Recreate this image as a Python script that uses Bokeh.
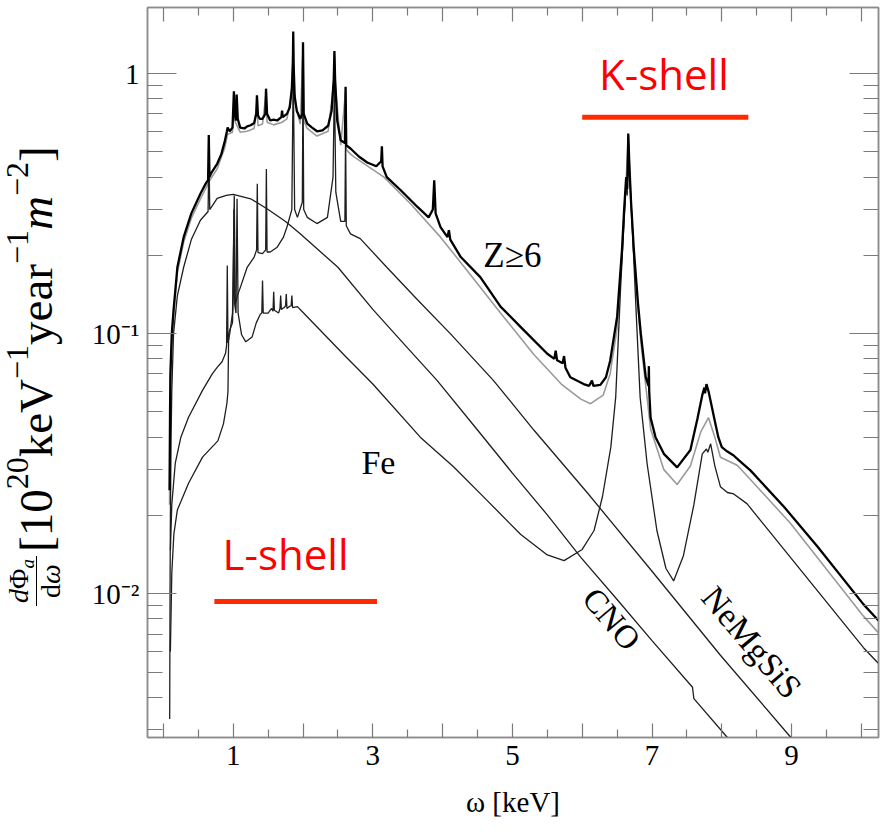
from bokeh.plotting import figure
from bokeh.layouts import row
from bokeh.models import Range1d, FixedTicker, LinearAxis, LogAxis, Label, Div
from bokeh.embed import file_html
from bokeh.resources import INLINE

# ---- spectra: energy omega [keV] and flux d(Phi_a)/d(omega) [1e20 keV^-1 yr^-1 m^-2] ----

# all metals (Z >= 6), including lines
total_e = [0.088, 0.095, 0.10, 0.12, 0.145, 0.20, 0.29, 0.40, 0.53, 0.60, 0.64, 0.65, 0.66,
           0.68, 0.77, 0.83, 0.88, 0.91, 0.92, 0.95, 0.99, 1.01, 1.02, 1.04, 1.05, 1.065,
           1.10, 1.16, 1.20, 1.25, 1.30, 1.33, 1.34, 1.355, 1.38, 1.42, 1.46, 1.47, 1.485,
           1.53, 1.58, 1.63, 1.69, 1.70, 1.71, 1.77, 1.81, 1.84, 1.855, 1.86, 1.865, 1.88,
           1.91, 1.96, 1.99, 2.00, 2.01, 2.06, 2.13, 2.20, 2.28, 2.36, 2.41, 2.44, 2.45,
           2.46, 2.49, 2.54, 2.60, 2.61, 2.62, 2.68, 2.80, 2.92, 3.05, 3.12, 3.13, 3.14,
           3.20, 3.40, 3.64, 3.80, 3.86, 3.88, 3.90, 3.97, 4.07, 4.09, 4.11, 4.26, 4.54,
           4.83, 5.12, 5.50, 5.60, 5.62, 5.64, 5.72, 5.74, 5.76, 5.83, 5.95, 6.02, 6.10,
           6.14, 6.16, 6.26, 6.34, 6.40, 6.50, 6.57, 6.60, 6.63, 6.645, 6.66, 6.675, 6.70,
           6.74, 6.80, 6.84, 6.91, 6.95, 6.955, 6.96, 6.98, 7.05, 7.17, 7.36, 7.55, 7.65,
           7.72, 7.75, 7.76, 7.78, 7.81, 7.89, 7.95, 8.00, 8.08, 8.17, 8.25, 8.41, 8.89,
           9.37, 10.03, 10.30]
total_f = [0.025, 0.05, 0.07, 0.10, 0.123, 0.18, 0.235, 0.29, 0.345, 0.375, 0.39, 0.58, 0.40,
           0.412, 0.45, 0.49, 0.55, 0.60, 0.62, 0.60, 0.62, 0.855, 0.70, 0.66, 0.83, 0.67,
           0.62, 0.615, 0.627, 0.633, 0.645, 0.70, 0.825, 0.69, 0.67, 0.67, 0.70, 0.875, 0.70,
           0.66, 0.665, 0.66, 0.68, 0.72, 0.68, 0.70, 0.74, 0.88, 1.10, 1.45, 1.10, 0.82,
           0.72, 0.67, 0.70, 1.32, 0.70, 0.642, 0.62, 0.60, 0.605, 0.63, 0.72, 0.95, 1.22,
           0.95, 0.66, 0.554, 0.54, 0.89, 0.53, 0.515, 0.48, 0.455, 0.44, 0.46, 0.525, 0.44,
           0.40, 0.356, 0.307, 0.28, 0.30, 0.389, 0.29, 0.257, 0.235, 0.25, 0.23, 0.197, 0.165,
           0.127, 0.106, 0.0837, 0.080, 0.086, 0.079, 0.077, 0.082, 0.074, 0.068, 0.0655, 0.064, 0.063,
           0.066, 0.063, 0.0635, 0.068, 0.0785, 0.116, 0.21, 0.298, 0.40, 0.36, 0.588, 0.45, 0.32,
           0.21, 0.13, 0.10, 0.068, 0.063, 0.075, 0.060, 0.0475, 0.040, 0.0345, 0.0306, 0.0357, 0.047,
           0.058, 0.062, 0.059, 0.064, 0.060, 0.0475, 0.040, 0.0366, 0.0352, 0.034, 0.0325, 0.0298, 0.0216,
           0.0152, 0.0091, 0.0076]

# continuum-dominated total for comparison (grey)
grey_e = [0.088, 0.095, 0.10, 0.12, 0.145, 0.20, 0.29, 0.40, 0.53, 0.68, 0.77, 0.88, 0.92,
          0.99, 1.01, 1.02, 1.10, 1.20, 1.30, 1.34, 1.355, 1.42, 1.47, 1.485, 1.58, 1.70,
          1.77, 1.84, 1.86, 1.88, 1.96, 2.00, 2.01, 2.06, 2.20, 2.36, 2.44, 2.45, 2.46,
          2.54, 2.61, 2.62, 2.68, 2.73, 3.16, 3.54, 3.97, 4.35, 4.83, 5.31, 5.70, 5.98,
          6.12, 6.30, 6.40, 6.50, 6.57, 6.60, 6.63, 6.66, 6.70, 6.74, 6.84, 6.98, 7.17,
          7.36, 7.55, 7.70, 7.81, 7.90, 7.98, 8.22, 8.41, 8.98, 10.03, 10.30]
grey_f = [0.022, 0.045, 0.065, 0.095, 0.117, 0.172, 0.225, 0.278, 0.33, 0.395, 0.43, 0.52, 0.585,
          0.595, 0.80, 0.66, 0.595, 0.60, 0.615, 0.78, 0.63, 0.64, 0.84, 0.65, 0.635, 0.65,
          0.67, 0.85, 1.40, 0.79, 0.64, 1.25, 0.66, 0.615, 0.575, 0.60, 0.92, 1.18, 0.92,
          0.53, 0.86, 0.51, 0.49, 0.478, 0.40, 0.316, 0.235, 0.175, 0.12, 0.083, 0.064, 0.056,
          0.0538, 0.058, 0.07, 0.105, 0.20, 0.29, 0.39, 0.57, 0.31, 0.20, 0.093, 0.043, 0.030,
          0.0263, 0.031, 0.042, 0.0475, 0.040, 0.0335, 0.0312, 0.0275, 0.0187, 0.0082, 0.0068]

# carbon, nitrogen, oxygen
cno_e = [0.09, 0.095, 0.10, 0.11, 0.12, 0.145, 0.20, 0.29, 0.40, 0.53, 0.64, 0.652, 0.664,
         0.77, 0.90, 1.00, 1.25, 1.50, 1.75, 1.96, 2.50, 3.00, 3.50, 3.92, 4.50, 5.00,
         5.50, 5.98, 6.50, 7.00, 7.58, 7.60, 8.08, 8.30]
cno_f = [0.0033, 0.010, 0.020, 0.040, 0.060, 0.10, 0.14, 0.18, 0.23, 0.273, 0.295, 0.50, 0.30,
         0.331, 0.340, 0.343, 0.33, 0.30, 0.27, 0.242, 0.18, 0.124, 0.088, 0.0661, 0.0426, 0.0291,
         0.0201, 0.0138, 0.0095, 0.0066, 0.00437, 0.00395, 0.0028, 0.0024]

# neon, magnesium, silicon, sulphur
nemgsis_e = [0.10, 0.12, 0.17, 0.25, 0.36, 0.56, 0.70, 0.77, 0.84, 0.89, 0.905, 0.915, 0.925,
             0.95, 0.99, 1.015, 1.03, 1.06, 1.10, 1.20, 1.30, 1.335, 1.345, 1.355, 1.42, 1.465,
             1.475, 1.485, 1.53, 1.63, 1.72, 1.77, 1.84, 1.86, 1.88, 1.92, 1.99, 2.00, 2.01,
             2.06, 2.20, 2.35, 2.43, 2.45, 2.47, 2.54, 2.60, 2.61, 2.62, 2.68, 2.82, 3.20,
             3.64, 4.11, 4.73, 5.31, 6.07, 7.00, 7.98, 8.99, 9.20]
nemgsis_f = [0.0147, 0.022, 0.0318, 0.040, 0.0477, 0.0605, 0.070, 0.0742, 0.078, 0.084, 0.09, 0.183, 0.092,
             0.10, 0.12, 0.34, 0.13, 0.14, 0.15, 0.18, 0.197, 0.21, 0.377, 0.205, 0.203, 0.21,
             0.43, 0.206, 0.206, 0.215, 0.235, 0.257, 0.30, 1.05, 0.30, 0.28, 0.32, 0.95, 0.30,
             0.28, 0.265, 0.28, 0.40, 0.93, 0.35, 0.27, 0.27, 0.60, 0.26, 0.242, 0.232, 0.18,
             0.135, 0.10, 0.066, 0.0425, 0.0245, 0.0122, 0.0058, 0.0028, 0.0024]

# iron
fe_e = [0.10, 0.12, 0.15, 0.20, 0.36, 0.56, 0.78, 0.86, 0.91, 0.925, 0.935, 0.96, 0.99,
        1.00, 1.01, 1.02, 1.04, 1.055, 1.07, 1.12, 1.18, 1.27, 1.33, 1.39, 1.41, 1.42,
        1.43, 1.50, 1.55, 1.57, 1.58, 1.59, 1.65, 1.67, 1.68, 1.69, 1.73, 1.75, 1.76,
        1.77, 1.80, 1.83, 1.84, 1.85, 1.92, 1.97, 2.61, 3.00, 3.68, 4.16, 4.64, 5.12,
        5.50, 5.74, 6.00, 6.17, 6.29, 6.41, 6.48, 6.55, 6.60, 6.63, 6.645, 6.66, 6.675,
        6.72, 6.78, 6.83, 6.93, 7.07, 7.20, 7.31, 7.45, 7.60, 7.72, 7.78, 7.80, 7.84,
        7.90, 7.98, 8.08, 8.17, 8.36, 10.03, 10.30]
fe_f = [0.006, 0.012, 0.017, 0.021, 0.0266, 0.0335, 0.0387, 0.045, 0.054, 0.060, 0.10, 0.105, 0.11,
        0.14, 0.30, 0.13, 0.12, 0.33, 0.12, 0.099, 0.093, 0.097, 0.11, 0.119, 0.12, 0.16,
        0.12, 0.12, 0.125, 0.122, 0.145, 0.123, 0.12, 0.125, 0.14, 0.124, 0.126, 0.128, 0.142,
        0.125, 0.127, 0.128, 0.14, 0.126, 0.127, 0.123, 0.0817, 0.064, 0.040, 0.0307, 0.0228, 0.0169,
        0.0141, 0.0134, 0.0148, 0.0175, 0.0236, 0.0366, 0.057, 0.15, 0.27, 0.38, 0.34, 0.56, 0.43,
        0.25, 0.11, 0.057, 0.0316, 0.0175, 0.0125, 0.0112, 0.014, 0.022, 0.0345, 0.036, 0.035, 0.0377,
        0.031, 0.0258, 0.0245, 0.0242, 0.0222, 0.0062, 0.0052]

# axis ticks
x_major = list(range(0, 11))
x_minor = [k + 0.5 for k in range(0, 10)]
x_hidden = {k: "" for k in x_major if k % 2 == 0}
y_major = [0.01, 0.1, 1]
y_minor = [m * 10.0 ** e for e in (-3, -2, -1) for m in range(2, 10)]
y_labels = {0.01: "10\u207b\u00b2", 0.1: "10\u207b\u00b9", 1: "1"}

SERIF = "Liberation Serif"
FRAME = "#8c8c8c"
TICK = "#7a7a7a"

p = figure(width=810, height=837, y_axis_type="log",
           x_range=Range1d(-0.228, 10.245), y_range=Range1d(0.0028, 1.795),
           output_backend="svg", toolbar_location=None,
           min_border_left=72, min_border_right=7, min_border_top=7, min_border_bottom=100)
p.grid.visible = False
p.background_fill_color = "white"
p.border_fill_color = "white"
p.outline_line_color = FRAME
p.outline_line_width = 1.5


def style_ticks(ax, major_len, minor_len):
    ax.axis_line_color = FRAME
    ax.axis_line_width = 1.5
    ax.major_tick_in = major_len
    ax.major_tick_out = 0
    ax.minor_tick_in = minor_len
    ax.minor_tick_out = 0
    ax.major_tick_line_color = TICK
    ax.minor_tick_line_color = TICK
    ax.major_tick_line_width = 1.2
    ax.minor_tick_line_width = 1.2


def style_labels(ax, overrides):
    ax.major_label_overrides = overrides
    ax.major_label_text_font = SERIF
    ax.major_label_text_font_size = "29px"
    ax.major_label_text_color = "black"
    ax.major_label_standoff = 8


# bottom and left axes carry the labels
bottom = p.xaxis[0]
bottom.ticker = FixedTicker(ticks=x_major, minor_ticks=x_minor)
style_ticks(bottom, 14, 8)
style_labels(bottom, x_hidden)
bottom.axis_label = "\u03c9 [keV]"
bottom.axis_label_text_font = SERIF
bottom.axis_label_text_font_size = "29px"
bottom.axis_label_text_font_style = "normal"
bottom.axis_label_text_color = "black"
bottom.axis_label_standoff = 18

left = p.yaxis[0]
left.ticker = FixedTicker(ticks=y_major, minor_ticks=y_minor)
style_ticks(left, 29, 15)
style_labels(left, y_labels)

# top and right axes: ticks only
top = LinearAxis(ticker=FixedTicker(ticks=x_major, minor_ticks=x_minor),
                 major_label_text_font_size="1px", major_label_text_color=None,
                 major_label_standoff=0)
style_ticks(top, 14, 8)
p.add_layout(top, "above")
right = LogAxis(ticker=FixedTicker(ticks=y_major, minor_ticks=y_minor),
                major_label_text_font_size="1px", major_label_text_color=None,
                major_label_standoff=0)
style_ticks(right, 29, 15)
p.add_layout(right, "right")

# spectra
p.line(grey_e, grey_f, line_color="#9a9a9a", line_width=1.6)
p.line(cno_e, cno_f, line_color="#1e1e1e", line_width=1.3)
p.line(nemgsis_e, nemgsis_f, line_color="#1e1e1e", line_width=1.3)
p.line(fe_e, fe_f, line_color="#1e1e1e", line_width=1.3)
p.line(total_e, total_f, line_color="black", line_width=2.3)

# curve labels
p.add_layout(Label(x=5.0, y=0.2, text="Z\u22656", text_font=SERIF, text_font_size="35px",
                   text_color="black", text_align="center", text_baseline="middle"))
p.add_layout(Label(x=3.08, y=0.032, text="Fe", text_font=SERIF, text_font_size="34px",
                   text_color="black", text_align="center", text_baseline="middle"))
p.add_layout(Label(x=6.42, y=0.0080, text="CNO", text_font=SERIF, text_font_size="33px",
                   text_color="black", text_align="center", text_baseline="middle", angle=-0.87))
p.add_layout(Label(x=8.43, y=0.0065, text="NeMgSiS", text_font=SERIF, text_font_size="34px",
                   text_color="black", text_align="center", text_baseline="middle", angle=-0.87))

# shell annotations
RED = "#ff0000"
BAR = "#ff2a00"
p.add_layout(Label(x=7.17, y=1.0, text="K-shell", text_font="Open Sans", text_font_size="42px",
                   text_color=RED, text_align="center", text_baseline="alphabetic"))
p.line([6.0, 8.38], [0.679, 0.679], line_color=BAR, line_width=5)
p.add_layout(Label(x=1.75, y=0.0143, text="L-shell", text_font="Open Sans", text_font_size="42px",
                   text_color=RED, text_align="center", text_baseline="alphabetic"))
p.line([0.73, 3.06], [0.00934, 0.00934], line_color=BAR, line_width=5)

# ---- vertical axis title: d(Phi_a)/d(omega) [10^20 keV^-1 year^-1 m^-2], set in HTML ----
SUP = "position:relative;top:-24px;font-size:32px;"
units_html = (f'[10<span style="{SUP}">20</span>keV<span style="{SUP}">\u22121</span>'
              f'year<span style="{SUP}">\u22121</span><i>m</i>'
              f'<span style="{SUP}">\u22122</span>]')
ROT = "position:absolute;transform:rotate(-90deg);transform-origin:0 0;white-space:nowrap;"
title_html = f"""
<div style="position:relative;width:75px;height:837px;font-family:'{SERIF}',serif;color:black;">
  <div style="{ROT}left:13px;top:552px;font-size:47px;line-height:47px;">{units_html}</div>
  <div style="{ROT}left:5px;top:606px;width:50px;text-align:center;font-size:28px;line-height:28px;">
    <div style="border-bottom:1.3px solid black;"><i>d</i>\u03a6<span style="position:relative;top:6px;font-size:19px;"><i>a</i></span></div>
    <div>d<i>\u03c9</i></div>
  </div>
</div>
"""
ytitle = Div(text=title_html, width=75, height=837, margin=0)

open("out.html", "w").write(file_html(row(ytitle, p), INLINE))
